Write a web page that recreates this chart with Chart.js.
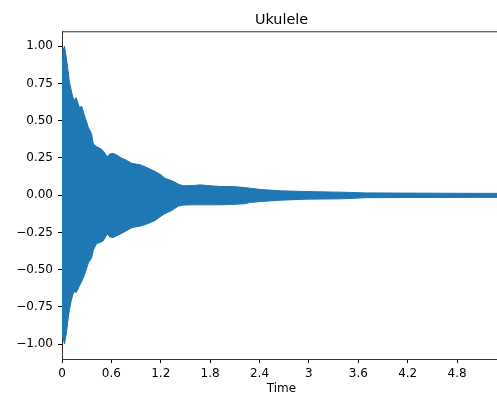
<!DOCTYPE html>
<html>
<head>
<meta charset="utf-8">
<script src="https://cdn.jsdelivr.net/npm/chart.js"></script>
<style>
  html, body { margin: 0; padding: 0; overflow: hidden; background: #fff; }
  #wrap { width: 502px; height: 394px; }
</style>
</head>
<body>
<div id="wrap"><canvas id="chartCanvas"></canvas></div>
<script>
// ---------- data (envelope) ----------
const timeSec = [0, 0.01, 0.03, 0.05, 0.07, 0.09, 0.11, 0.13, 0.15, 0.17, 0.19, 0.21, 0.24, 0.27,
  0.30, 0.32, 0.36, 0.38, 0.42, 0.46, 0.50, 0.55, 0.58, 0.62, 0.66, 0.72, 0.78, 0.85, 0.95, 1.01,
  1.07, 1.13, 1.19, 1.25, 1.31, 1.37, 1.41, 1.47, 1.60, 1.68, 1.76, 1.92, 2.08, 2.22, 2.28, 2.41,
  2.65, 2.97, 3.38, 3.70, 4.11, 4.59, 5.00, 5.34];

const upperAmp = [0.90, 0.97, 1.00, 0.93, 0.85, 0.76, 0.71, 0.66, 0.635, 0.655, 0.625, 0.59, 0.595, 0.54,
  0.49, 0.455, 0.41, 0.345, 0.325, 0.315, 0.298, 0.258, 0.276, 0.28, 0.271, 0.25, 0.235, 0.213, 0.204, 0.19,
  0.175, 0.159, 0.141, 0.114, 0.101, 0.089, 0.074, 0.063, 0.065, 0.069, 0.065, 0.058, 0.058, 0.051, 0.047, 0.038,
  0.029, 0.024, 0.020, 0.015, 0.014, 0.013, 0.012, 0.012];

const lowerAmp = [-0.85, -0.95, -1.00, -0.94, -0.85, -0.77, -0.715, -0.67, -0.645, -0.655, -0.635, -0.612, -0.578, -0.54,
  -0.49, -0.455, -0.42, -0.37, -0.325, -0.318, -0.307, -0.262, -0.28, -0.285, -0.274, -0.258, -0.24, -0.218, -0.208, -0.198,
  -0.185, -0.17, -0.146, -0.124, -0.11, -0.09, -0.074, -0.067, -0.065, -0.065, -0.065, -0.065, -0.062, -0.058, -0.05, -0.043,
  -0.034, -0.027, -0.025, -0.017, -0.016, -0.016, -0.015, -0.015];

const xTickValues = [0, 0.6, 1.2, 1.8, 2.4, 3.0, 3.6, 4.2, 4.8];
const yTickValues = [-1.0, -0.75, -0.5, -0.25, 0, 0.25, 0.5, 0.75, 1.0];

const WAVE_COLOR = "#1f77b4";
const FONT = "'DejaVu Sans', sans-serif";

// ---------- helpers ----------
function fmtTime(v) {
  return String(Number(v.toFixed(1)));
}
function fmtAmp(v) {
  return v.toFixed(2).replace("-", "\u2212");
}

// top spine (matplotlib style box, right edge falls outside the view)
const topSpine = {
  id: "topSpine",
  afterDraw(chart) {
    const { ctx, chartArea } = chart;
    ctx.save();
    ctx.strokeStyle = "#333";
    ctx.lineWidth = 1;
    ctx.beginPath();
    ctx.moveTo(chartArea.left, chartArea.top + 0.5);
    ctx.lineTo(chartArea.right, chartArea.top + 0.5);
    ctx.stroke();
    ctx.restore();
  }
};

// ---------- chart ----------
Chart.defaults.font.family = FONT;
Chart.defaults.color = "#000";

new Chart(document.getElementById("chartCanvas"), {
  type: "line",
  data: {
    datasets: [
      {
        data: timeSec.map((t, i) => ({ x: t, y: upperAmp[i] })),
        borderColor: WAVE_COLOR,
        backgroundColor: WAVE_COLOR,
        borderWidth: 1,
        pointRadius: 0,
        tension: 0,
        fill: "+1"
      },
      {
        data: timeSec.map((t, i) => ({ x: t, y: lowerAmp[i] })),
        borderColor: WAVE_COLOR,
        backgroundColor: WAVE_COLOR,
        borderWidth: 1,
        pointRadius: 0,
        tension: 0,
        fill: false
      }
    ]
  },
  options: {
    responsive: true,
    maintainAspectRatio: false,
    animation: false,
    devicePixelRatio: 1,
    layout: { padding: { left: 0, right: 1, top: 0, bottom: 0 } },
    plugins: {
      legend: { display: false },
      tooltip: { enabled: false },
      title: {
        display: true,
        text: "Ukulele",
        fullSize: false,
        color: "#000",
        font: { size: 14.4, weight: "normal", family: FONT },
        padding: { top: 12, bottom: 2 }
      }
    },
    scales: {
      x: {
        type: "linear",
        min: 0,
        max: 5.334,
        afterBuildTicks: s => { s.ticks = xTickValues.map(v => ({ value: v })); },
        afterFit: s => { s.height = 35; },
        ticks: {
          callback: v => fmtTime(v),
          font: { size: 12 },
          color: "#000",
          padding: 4,
          maxRotation: 0,
          autoSkip: false
        },
        grid: { display: true, drawOnChartArea: false, drawTicks: true, tickLength: 4, color: "#000" },
        border: { display: true, color: "#333", width: 1 },
        title: { display: true, text: "Time", font: { size: 12 }, color: "#000", padding: { top: 1, bottom: -2 } }
      },
      y: {
        type: "linear",
        min: -1.1,
        max: 1.1,
        afterBuildTicks: s => { s.ticks = yTickValues.map(v => ({ value: v })); },
        afterFit: s => { s.width = 62; },
        ticks: {
          callback: v => fmtAmp(v),
          font: { size: 12 },
          color: "#000",
          padding: 5,
          autoSkip: false
        },
        grid: { display: true, drawOnChartArea: false, drawTicks: true, tickLength: 4, color: "#000" },
        border: { display: true, color: "#333", width: 1 }
      }
    }
  },
  plugins: [topSpine]
});
</script>
</body>
</html>
